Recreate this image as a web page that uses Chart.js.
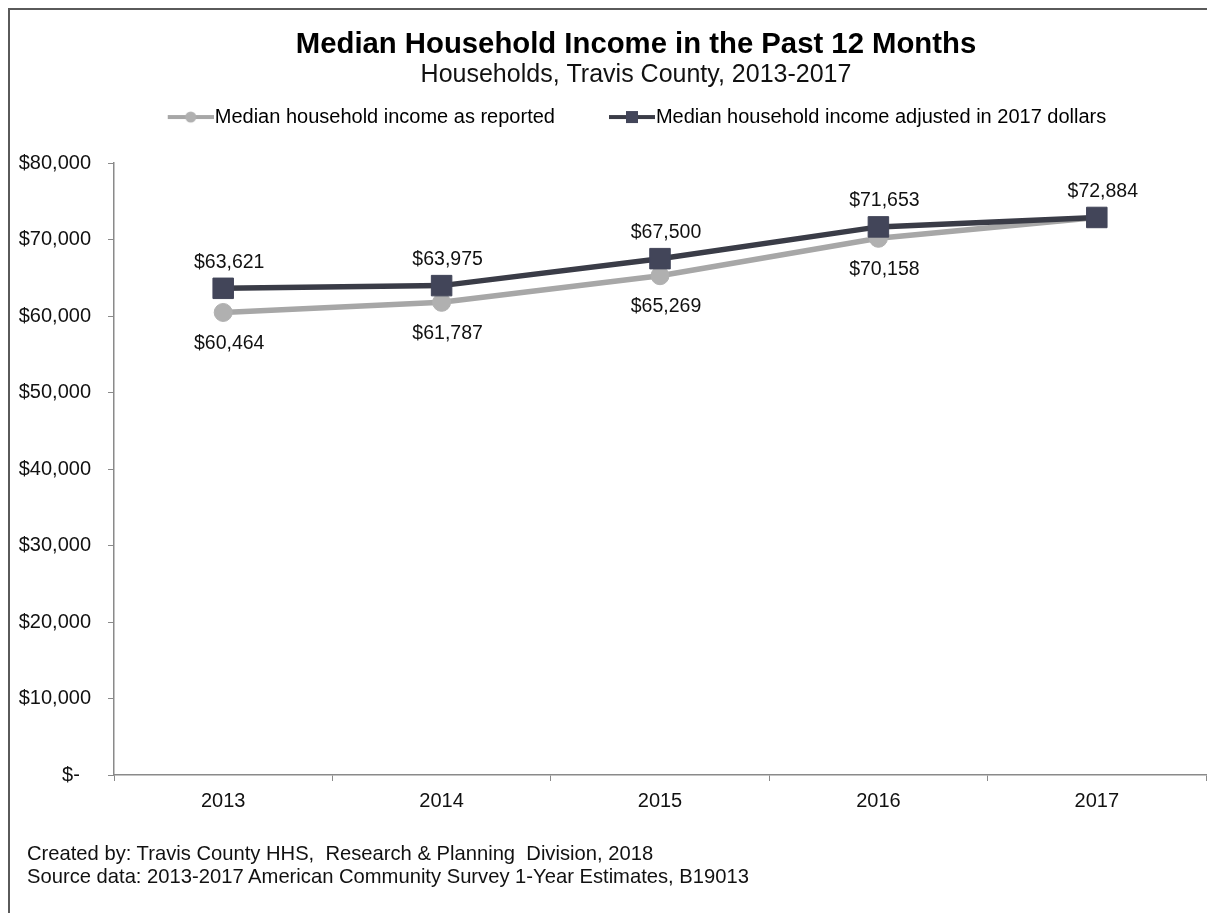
<!DOCTYPE html>
<html>
<head>
<meta charset="utf-8">
<title>Median Household Income in the Past 12 Months</title>
<script src="https://cdn.jsdelivr.net/npm/chart.js@4.4.1/dist/chart.umd.min.js"></script>
<style>
  html, body { margin: 0; padding: 0; background: #fff; overflow: hidden; width: 1207px; height: 913px; }
  #frame { position: absolute; left: 8px; top: 8px; width: 1400px; height: 1100px; border: 2px solid #5a5a5a; box-sizing: border-box; }
  #wrap { position: absolute; left: 0; top: 0; width: 1262px; height: 913px; }
  #note { position: absolute; left: 27px; top: 842px; font: 20.2px "Liberation Sans", Arial, sans-serif; line-height: 23px; color: #111; white-space: pre; }
</style>
</head>
<body>
<div id="frame"></div>
<div id="wrap"><canvas id="c" width="1262" height="913"></canvas></div>
<div id="note">Created by: Travis County HHS,  Research &amp; Planning  Division, 2018
Source data: 2013-2017 American Community Survey 1-Year Estimates, B19013</div>
<script>
// Survey years and income series (dollars)
const years = ['2013', '2014', '2015', '2016', '2017'];
const reported = [60464, 61787, 65269, 70158, 72884];
const adjusted = [63621, 63975, 67500, 71653, 72884];
const seriesNames = [
  'Median household income as reported',
  'Median household income adjusted in 2017 dollars'
];
const yMin = 0;
const yMax = 80000;
const yStep = 10000;

const FONT = '"Liberation Sans", Arial, sans-serif';
const LIGHT_LINE = '#a7a7a7';
const LIGHT_MARK = '#b0b0b0';
const DARK_LINE = '#3a3c47';
const DARK_MARK = '#424559';
const AXIS = '#8a8a8a';

function money(v) {
  return '$' + v.toLocaleString('en-US');
}

// Legend swatch: short line with a marker, drawn to the right of the item box
function legendSwatch(lineColor, markColor, shape) {
  const c = document.createElement('canvas');
  c.width = 99; c.height = 14;
  const g = c.getContext('2d');
  g.strokeStyle = lineColor;
  g.lineWidth = 4;
  g.beginPath(); g.moveTo(53, 7); g.lineTo(99, 7); g.stroke();
  g.fillStyle = markColor;
  if (shape === 'rect') {
    g.fillRect(70, 1, 12, 12);
  } else {
    g.beginPath(); g.arc(76, 7, 5.5, 0, Math.PI * 2); g.fill();
  }
  return c;
}

// Value labels: adjusted above its points, reported below (skipped where both coincide)
const valueLabels = {
  id: 'valueLabels',
  afterDatasetsDraw(chart) {
    const ctx = chart.ctx;
    ctx.save();
    ctx.font = '19.5px ' + FONT;
    ctx.fillStyle = '#111';
    ctx.textAlign = 'center';
    ctx.textBaseline = 'middle';
    chart.data.datasets.forEach((ds, di) => {
      const meta = chart.getDatasetMeta(di);
      const above = ds.label === seriesNames[1];
      meta.data.forEach((pt, i) => {
        if (!above && reported[i] === adjusted[i]) return;
        ctx.fillText(money(ds.data[i]), pt.x + 6, pt.y + (above ? -26 : 31));
      });
    });
    ctx.restore();
  }
};

// Places the legend row just under the subtitle
const legendPlacement = {
  id: 'legendPlacement',
  afterLayout(chart) {
    const lg = chart.legend;
    lg.left -= 21; lg.right -= 21;
    lg.top -= 26; lg.bottom -= 26;
  }
};

new Chart(document.getElementById('c'), {
  type: 'line',
  data: {
    labels: years,
    datasets: [
      {
        label: seriesNames[0],
        data: reported,
        order: 1,
        borderColor: LIGHT_LINE,
        backgroundColor: LIGHT_MARK,
        borderWidth: 5.5,
        tension: 0,
        pointStyle: 'circle',
        pointRadius: 9,
        pointBackgroundColor: LIGHT_MARK,
        pointBorderColor: LIGHT_MARK,
        pointBorderWidth: 1
      },
      {
        label: seriesNames[1],
        data: adjusted,
        order: 0,
        borderColor: DARK_LINE,
        backgroundColor: DARK_MARK,
        borderWidth: 5.5,
        tension: 0,
        pointStyle: 'rect',
        pointRadius: 14.5,
        pointBackgroundColor: DARK_MARK,
        pointBorderColor: DARK_MARK,
        pointBorderWidth: 1
      }
    ]
  },
  options: {
    responsive: false,
    devicePixelRatio: 1,
    animation: false,
    events: [],
    layout: { padding: { top: 29, left: 10, right: 0, bottom: 0 } },
    plugins: {
      title: {
        display: true,
        text: 'Median Household Income in the Past 12 Months',
        color: '#000',
        font: { family: FONT, size: 29.3, weight: 'bold', lineHeight: 1.1 },
        padding: { top: 0, bottom: 0 }
      },
      subtitle: {
        display: true,
        text: 'Households, Travis County, 2013-2017',
        color: '#111',
        font: { family: FONT, size: 25, weight: 'normal', lineHeight: 1.1 },
        padding: { top: 0, bottom: 34.3 }
      },
      legend: {
        display: true,
        position: 'top',
        labels: {
          color: '#111',
          font: { family: FONT, size: 20 },
          padding: 10,
          usePointStyle: true,
          pointStyleWidth: 81,
          generateLabels() {
            return [
              { text: seriesNames[0], pointStyle: legendSwatch(LIGHT_LINE, LIGHT_MARK, 'circle'), fillStyle: LIGHT_MARK, strokeStyle: LIGHT_LINE, lineWidth: 0, hidden: false, datasetIndex: 0 },
              { text: seriesNames[1], pointStyle: legendSwatch(DARK_LINE, DARK_MARK, 'rect'), fillStyle: DARK_MARK, strokeStyle: DARK_LINE, lineWidth: 0, hidden: false, datasetIndex: 1 }
            ];
          }
        }
      },
      tooltip: { enabled: false }
    },
    scales: {
      x: {
        offset: true,
        grid: { offset: true, drawOnChartArea: false, tickLength: 6, color: AXIS, lineWidth: 1 },
        border: { color: AXIS, width: 1.5 },
        ticks: { color: '#111', font: { family: FONT, size: 20 }, padding: 8 },
        afterFit(scale) { scale.height = 138; }
      },
      y: {
        min: yMin,
        max: yMax,
        grid: { drawOnChartArea: false, tickLength: 6, color: AXIS, lineWidth: 1 },
        border: { color: AXIS, width: 1.5 },
        ticks: {
          stepSize: yStep,
          color: '#111',
          font: { family: FONT, size: 20 },
          padding: 17,
          callback: (v) => (v === 0 ? '$-  ' : money(v))
        },
        afterFit(scale) { scale.width = 104; }
      },
      // empty right-hand margin of the plot (no marks of its own)
      yMargin: {
        type: 'linear',
        axis: 'y',
        position: 'right',
        grid: { display: false },
        border: { display: false },
        ticks: { display: false },
        afterFit(scale) { scale.width = 56; }
      }
    }
  },
  plugins: [valueLabels, legendPlacement]
});
</script>
</body>
</html>
